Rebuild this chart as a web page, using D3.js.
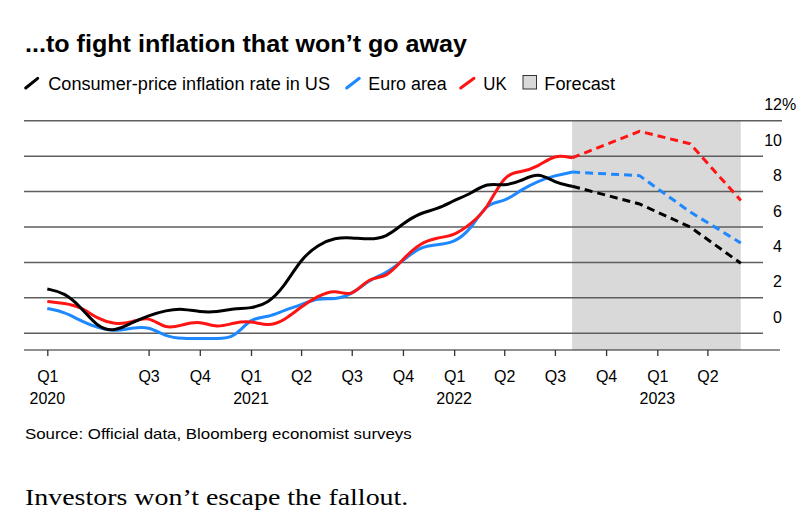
<!DOCTYPE html>
<html><head><meta charset="utf-8">
<script src="https://cdn.jsdelivr.net/npm/d3@7"></script>
<style>
body{margin:0;background:#fff}
svg{display:block}
text{font-family:"Liberation Sans",Arial,Helvetica,sans-serif;fill:#000}
</style>
</head><body>
<svg id="chart" width="810" height="520"></svg>
<script>
// ---------- data ----------
const months = ["2020-01-01","2020-02-01","2020-03-01","2020-04-01","2020-05-01","2020-06-01",
  "2020-07-01","2020-08-01","2020-09-01","2020-10-01","2020-11-01","2020-12-01",
  "2021-01-01","2021-02-01","2021-03-01","2021-04-01","2021-05-01","2021-06-01",
  "2021-07-01","2021-08-01","2021-09-01","2021-10-01","2021-11-01","2021-12-01",
  "2022-01-01","2022-02-01","2022-03-01","2022-04-01","2022-05-01","2022-06-01",
  "2022-07-01","2022-08-01"];
const usValues = [2.5,2.3,1.5,0.3,0.1,0.6,1.0,1.3,1.4,1.2,1.2,1.4,
  1.4,1.7,2.6,4.2,5.0,5.4,5.4,5.3,5.4,6.2,6.8,7.0,
  7.5,7.9,8.5,8.3,8.6,9.1,8.5,8.3];
const euroValues = [1.4,1.2,0.7,0.3,0.1,0.3,0.4,-0.2,-0.3,-0.3,-0.3,-0.3,
  0.9,0.9,1.3,1.6,2.0,1.9,2.2,3.0,3.4,4.1,4.9,5.0,
  5.1,5.9,7.4,7.4,8.1,8.6,8.9,9.1];
const ukValues = [1.8,1.7,1.5,0.8,0.5,0.6,1.0,0.2,0.5,0.7,0.3,0.6,
  0.7,0.4,0.7,1.5,2.1,2.5,2.0,3.2,3.1,4.2,5.1,5.4,
  5.5,6.2,7.0,9.0,9.1,9.4,10.1,9.9];

const forecastDates = ["2022-08-01","2022-11-30","2023-03-01","2023-05-31"];
const usForecast   = [8.3, 7.3, 6.0, 3.95];
const euroForecast = [9.1, 8.9, 6.85, 5.1];
const ukForecast   = [9.9, 11.4, 10.7, 7.5];

const yTicks = [0,2,4,6,8,10,12];
const xTickDates = ["2020-01-01","2020-07-01","2020-10-01","2021-01-01","2021-04-01","2021-07-01",
  "2021-10-01","2022-01-01","2022-04-01","2022-07-01","2022-10-01","2023-01-01","2023-04-01"];
const xTickLabels = ["Q1","Q3","Q4","Q1","Q2","Q3","Q4","Q1","Q2","Q3","Q4","Q1","Q2"];
const yearDates = ["2020-01-01","2021-01-01","2022-01-01","2023-01-01"];
const yearLabels = ["2020","2021","2022","2023"];

const seriesNames = ["Consumer-price inflation rate in US","Euro area","UK"];
const seriesColors = ["#000000","#1e88ff","#ff1414"];

// ---------- setup ----------
const parse = d3.utcParse("%Y-%m-%d");
const svg = d3.select("#chart");

const x = d3.scaleUtc()
  .domain([parse("2020-01-01"), parse("2023-01-01")])
  .range([47.3, 657.3]);
const y = d3.scaleLinear().domain([0, 12]).range([333.3, 120.7]);

function fit(sel, w){ sel.attr("textLength", w).attr("lengthAdjust","spacingAndGlyphs"); return sel; }

// title
fit(svg.append("text").attr("x",25).attr("y",52)
  .style("font-size","24px").style("font-weight","bold")
  .text("...to fight inflation that won\u2019t go away"), 442);

// legend
const lg = svg.append("g");
const slashes = [[25.7,37.7],[346.7,359.3],[460.7,474]];
const legTextX = [48.3, 368.3, 483.3];
const legTextW = [281.7, 78.4, 23.4];
seriesNames.forEach((n,i)=>{
  lg.append("line").attr("x1",slashes[i][0]).attr("y1",88).attr("x2",slashes[i][1]).attr("y2",78.3)
    .attr("stroke",seriesColors[i]).attr("stroke-width",3).attr("stroke-linecap","round");
  fit(lg.append("text").attr("x",legTextX[i]).attr("y",89.5).style("font-size","18px").text(n), legTextW[i]);
});
lg.append("rect").attr("x",523).attr("y",75.5).attr("width",13.5).attr("height",13.5)
  .attr("fill","#d9d9d9").attr("stroke","#333").attr("stroke-width",1);
fit(lg.append("text").attr("x",544.3).attr("y",89.5).style("font-size","18px").text("Forecast"), 70.7);

// forecast shade
svg.append("rect")
  .attr("x", x(parse(forecastDates[0])))
  .attr("y", y(12))
  .attr("width", x(parse(forecastDates[forecastDates.length-1])) - x(parse(forecastDates[0])))
  .attr("height", 350 - y(12))
  .attr("fill","#d9d9d9");

// gridlines
svg.append("g").selectAll("line").data(yTicks).join("line")
  .attr("x1",24).attr("x2",d=> d===12 ? 782 : 763)
  .attr("y1",d=>y(d)).attr("y2",d=>y(d))
  .attr("stroke","#5e5e5e").attr("stroke-width",1.5);

// y labels
const yl = svg.append("g").style("font-size","16px");
yl.selectAll("text.num").data(yTicks).join("text").attr("class","num")
  .attr("x",782).attr("y",d=>y(d)-10.5).attr("text-anchor","end").text(d=>d);
yl.append("text").attr("x",782).attr("y",y(12)-10.5).text("%");

// x axis
svg.append("line").attr("x1",24).attr("x2",780).attr("y1",350).attr("y2",350)
  .attr("stroke","#222").attr("stroke-width",1.2);
const xAxis = d3.axisBottom(x)
  .tickValues(xTickDates.map(parse))
  .tickFormat((d,i)=>xTickLabels[i])
  .tickSize(6).tickPadding(0);
const gx = svg.append("g").attr("transform","translate(0,350)").call(xAxis);
gx.select(".domain").remove();
gx.selectAll(".tick line").attr("stroke","#333").attr("stroke-width",1.3);
gx.selectAll(".tick text").attr("y",31.5).attr("dy",0)
  .style("font-size","16px").style("font-family",'"Liberation Sans",Arial,sans-serif').attr("fill","#000");
svg.append("g").selectAll("text").data(yearDates).join("text")
  .attr("x",(d)=>x(parse(d))).attr("y",404).attr("text-anchor","middle")
  .style("font-size","16px").text((d,i)=>yearLabels[i]);

// lines
const line = d3.line().x(d=>x(d.date)).y(d=>y(d.v)).curve(d3.curveBasis);
const fline = d3.line().x(d=>x(d.date)).y(d=>y(d.v));
const actual = [usValues, euroValues, ukValues];
const forecasts = [usForecast, euroForecast, ukForecast];
const drawOrder = [1,2,0];
drawOrder.forEach(i=>{
  const data = months.map((m,k)=>({date:parse(m), v:actual[i][k]}));
  svg.append("path").attr("d",line(data)).attr("fill","none")
    .attr("stroke",seriesColors[i]).attr("stroke-width",3).attr("stroke-linejoin","round");
});
[0,1,2].forEach(i=>{
  const data = forecastDates.map((m,k)=>({date:parse(m), v:forecasts[i][k]}));
  svg.append("path").attr("d",fline(data)).attr("fill","none")
    .attr("stroke",seriesColors[i]).attr("stroke-width",3).attr("stroke-dasharray","8,5");
});

// footer
fit(svg.append("text").attr("x",25).attr("y",439).style("font-size","15px").attr("fill","#111")
  .text("Source: Official data, Bloomberg economist surveys"), 386.7);
fit(svg.append("text").attr("x",25).attr("y",504.5)
  .style("font-family",'"Liberation Serif","DejaVu Serif",serif').style("font-size","24px")
  .text("Investors won\u2019t escape the fallout."), 383.3);
</script>
</body></html>
